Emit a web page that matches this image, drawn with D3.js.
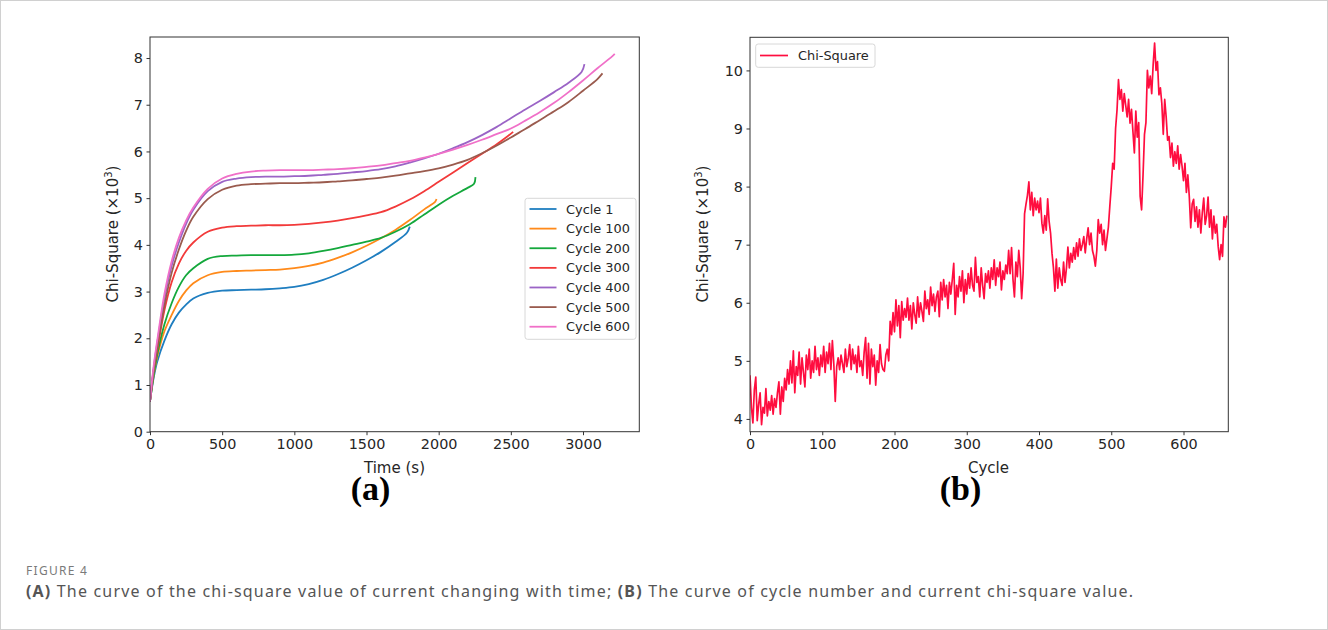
<!DOCTYPE html>
<html>
<head>
<meta charset="utf-8">
<script src="https://cdn.jsdelivr.net/npm/d3@7"></script>
<style>
  html, body { margin: 0; padding: 0; background: #fff; }
  svg { display: block; }
</style>
</head>
<body>
<svg id="fig" width="1328" height="630"></svg>
<script>
// ---- Panel (a): chi-square of current vs time, one curve per cycle ([time s, value ×10³])
const cycle1 = [[0,0.65],[25,1.15],[50,1.5],[100,1.95],[150,2.3],[200,2.55],[250,2.72],[300,2.85],[400,2.97],[500,3.02],[600,3.03],[700,3.04],[800,3.05],[900,3.07],[1000,3.1],[1100,3.16],[1200,3.25],[1300,3.37],[1400,3.51],[1500,3.67],[1600,3.85],[1700,4.06],[1780,4.26],[1800,4.39]];
const cycle100 = [[0,0.65],[25,1.2],[50,1.6],[100,2.15],[150,2.5],[200,2.8],[250,3.02],[300,3.18],[400,3.35],[500,3.42],[600,3.44],[700,3.45],[800,3.46],[900,3.47],[1000,3.5],[1100,3.55],[1200,3.62],[1300,3.72],[1400,3.84],[1500,3.98],[1600,4.14],[1700,4.32],[1800,4.53],[1900,4.76],[1975,4.92],[1985,4.98]];
const cycle200 = [[0,0.65],[25,1.2],[50,1.65],[100,2.3],[150,2.75],[200,3.1],[250,3.35],[300,3.5],[400,3.7],[500,3.76],[600,3.77],[700,3.78],[800,3.78],[900,3.78],[1000,3.79],[1100,3.82],[1200,3.87],[1300,3.93],[1400,4.0],[1500,4.07],[1600,4.15],[1700,4.28],[1800,4.44],[1900,4.65],[2000,4.86],[2100,5.05],[2200,5.22],[2245,5.31],[2255,5.45]];
const cycle300 = [[0,0.65],[25,1.3],[50,1.75],[100,2.6],[150,3.2],[200,3.6],[250,3.87],[300,4.05],[400,4.28],[500,4.37],[600,4.4],[700,4.41],[800,4.42],[900,4.42],[1000,4.43],[1100,4.45],[1200,4.48],[1300,4.52],[1400,4.57],[1500,4.63],[1600,4.7],[1700,4.82],[1800,4.97],[1900,5.15],[2000,5.35],[2100,5.55],[2200,5.75],[2300,5.95],[2400,6.15],[2480,6.33],[2516,6.42]];
const cycle400 = [[0,0.65],[25,1.35],[50,1.9],[100,2.85],[150,3.55],[200,4.05],[250,4.45],[300,4.75],[400,5.15],[500,5.35],[600,5.42],[700,5.45],[800,5.46],[900,5.46],[1000,5.47],[1100,5.48],[1200,5.5],[1300,5.52],[1400,5.55],[1500,5.58],[1600,5.62],[1700,5.68],[1800,5.76],[1900,5.85],[2000,5.95],[2100,6.07],[2200,6.2],[2300,6.35],[2400,6.52],[2500,6.71],[2600,6.9],[2700,7.08],[2800,7.27],[2900,7.47],[2990,7.7],[3010,7.87]];
const cycle500 = [[0,0.65],[25,1.3],[50,1.8],[100,2.7],[150,3.4],[200,3.9],[250,4.3],[300,4.6],[400,4.98],[500,5.18],[600,5.27],[700,5.3],[800,5.31],[900,5.32],[1000,5.32],[1100,5.33],[1200,5.34],[1300,5.36],[1400,5.38],[1500,5.41],[1600,5.44],[1700,5.48],[1800,5.53],[1900,5.58],[2000,5.64],[2100,5.72],[2200,5.82],[2300,5.96],[2400,6.12],[2500,6.3],[2600,6.48],[2700,6.67],[2800,6.86],[2900,7.06],[3000,7.3],[3100,7.55],[3135,7.67]];
const cycle600 = [[0,0.65],[25,1.4],[50,1.95],[100,2.95],[150,3.65],[200,4.15],[250,4.52],[300,4.8],[400,5.2],[500,5.42],[600,5.52],[700,5.57],[800,5.59],[900,5.6],[1000,5.6],[1100,5.6],[1200,5.61],[1300,5.62],[1400,5.64],[1500,5.67],[1600,5.7],[1700,5.75],[1800,5.8],[1900,5.87],[2000,5.95],[2100,6.04],[2200,6.14],[2300,6.25],[2400,6.37],[2500,6.49],[2600,6.66],[2700,6.84],[2800,7.04],[2900,7.27],[3000,7.52],[3100,7.78],[3200,8.03],[3220,8.09]];

const seriesNames = ["Cycle 1","Cycle 100","Cycle 200","Cycle 300","Cycle 400","Cycle 500","Cycle 600"];
const seriesColors = ["#1f7ec0","#ff8a1a","#14a83c","#f23a3a","#9b64c6","#9a5b4e","#f070c8"];
const timeTicks = [0,500,1000,1500,2000,2500,3000];
const chiTicksA = [0,1,2,3,4,5,6,7,8];

// ---- Panel (b): chi-square of current for every second cycle (cycles 0, 2, 4, ...)
const chiSquare = [
  4.75,4.2,3.93,4.5,4.72,3.97,4.25,4.45,3.9,4.2,
  4.1,4.52,4.05,4.3,4.15,4.4,4.08,4.35,4.2,4.45,
  4.64,4.08,4.55,4.3,4.7,4.5,4.85,4.6,5.0,4.62,
  5.17,4.45,4.9,4.75,5.15,4.6,5.05,4.8,4.55,5.1,
  4.85,5.2,4.7,5.0,4.8,5.25,4.85,5.05,4.75,5.1,
  4.9,5.25,4.8,5.15,4.95,5.3,4.85,5.35,4.95,4.3,
  4.9,5.05,4.85,5.1,4.95,4.8,5.2,4.9,5.05,5.28,
  4.85,5.2,4.95,5.1,4.8,5.25,4.9,5.0,4.75,5.15,
  5.4,4.7,5.3,4.6,5.2,4.9,5.1,4.58,5.0,4.8,
  5.28,4.95,4.85,4.82,5.1,5.2,5.0,5.68,5.45,5.83,
  5.5,6.05,5.6,5.95,5.4,6.02,5.7,5.9,5.75,6.08,
  5.7,5.95,5.55,6.0,5.8,5.65,6.1,5.75,6.0,5.85,
  5.68,6.2,5.9,6.05,5.8,6.27,5.95,6.15,5.85,6.1,
  6.2,5.76,6.35,6.05,6.4,6.1,6.3,5.9,6.35,6.15,
  6.4,6.68,5.8,6.3,6.1,6.45,6.2,6.55,6.0,6.4,
  6.15,6.5,6.25,6.6,6.3,6.2,6.78,6.35,6.45,6.1,
  6.6,6.3,6.07,6.5,6.35,6.55,6.25,6.6,6.4,6.74,
  6.3,6.6,6.45,6.7,6.22,6.55,6.4,6.65,6.5,6.9,
  6.5,6.95,6.4,6.1,6.7,6.45,6.9,6.6,6.07,6.5,
  7.53,7.7,7.85,8.08,7.6,7.9,7.5,7.8,7.6,7.75,
  7.55,7.8,7.37,7.2,7.5,7.25,7.79,7.4,7.2,6.85,
  6.6,6.2,6.75,6.25,6.6,6.4,6.3,6.7,6.35,6.6,
  6.96,6.6,6.85,6.7,6.95,6.75,7.03,6.8,7.1,6.9,
  7.0,7.14,6.86,7.1,7.29,7.0,7.2,6.9,6.8,6.63,
  6.9,7.43,7.2,7.35,7.0,7.25,6.9,7.1,7.3,7.66,
  8.0,8.4,8.3,9.0,9.32,9.84,9.5,9.67,9.3,9.6,
  9.4,9.2,9.5,9.09,9.33,8.95,8.58,9.3,8.85,9.1,
  7.83,7.6,8.2,8.9,9.1,10.0,9.7,9.9,9.6,10.1,
  10.47,10.0,10.15,9.58,9.7,9.43,8.9,9.5,9.2,8.8,
  8.86,8.5,8.75,8.35,8.6,8.4,8.7,8.3,8.55,8.35,
  8.1,8.4,7.9,8.2,7.83,7.29,7.7,7.78,7.4,7.65,
  7.3,7.6,7.2,7.55,7.8,7.35,7.5,7.82,7.3,7.6,
  7.1,7.49,7.2,7.35,6.97,6.74,7.0,6.8,7.48,7.3,
  7.5
];
const cycleStep = 2;
const cycleTicks = [0,100,200,300,400,500,600];
const chiTicksB = [4,5,6,7,8,9,10];

const svg = d3.select("#fig");
const FONT = "'DejaVu Sans', sans-serif";
const INK = "#262626";

// outer frame of the figure
svg.append("rect").attr("x", 0.5).attr("y", 0.5).attr("width", 1327).attr("height", 629)
  .attr("fill", "#fff").attr("stroke", "#d0d0d0");

function frame(g, x, y, xTicks, yTicks) {
  const [x0, x1] = x.range(), [y1, y0] = y.range();
  const xAxis = g.append("g").attr("transform", `translate(0,${y1})`)
    .call(d3.axisBottom(x).tickValues(xTicks).tickSize(3.5).tickPadding(3.5).tickFormat(d3.format("d")));
  const yAxis = g.append("g").attr("transform", `translate(${x0},0)`)
    .call(d3.axisLeft(y).tickValues(yTicks).tickSize(3.5).tickPadding(3.5).tickFormat(d3.format("d")));
  [xAxis, yAxis].forEach(a => {
    a.select(".domain").remove();
    a.selectAll("line").attr("stroke", "#333");
    a.selectAll("text").attr("fill", INK).style("font-family", FONT).style("font-size", "14.4px");
  });
  g.append("rect").attr("x", x0).attr("y", y0).attr("width", x1 - x0).attr("height", y1 - y0)
    .attr("fill", "none").attr("stroke", "#333").attr("stroke-width", 1);
}

function yLabel(g, cx, cy) {
  const t = g.append("text").attr("transform", `translate(${cx},${cy}) rotate(-90)`)
    .attr("text-anchor", "middle").attr("fill", INK)
    .style("font-family", FONT).style("font-size", "15px");
  t.append("tspan").text("Chi-Square (×10");
  t.append("tspan").attr("dy", -6).style("font-size", "10px").text("3");
  t.append("tspan").attr("dy", 6).text(")");
}

function panelTag(cx, label) {
  svg.append("text").attr("x", cx).attr("y", 500).attr("text-anchor", "middle")
    .style("font-family", "'Liberation Serif', 'Times New Roman', serif").style("font-weight", "bold")
    .style("font-size", "34px").attr("fill", "#000").text(label);
}

// ---------------- Panel (a)
{
  const g = svg.append("g");
  const x = d3.scaleLinear().domain([0, 3390]).range([150, 639.3]);
  const y = d3.scaleLinear().domain([0, 8.45]).range([431.7, 37]);
  g.append("clipPath").attr("id", "clipA").append("rect")
    .attr("x", 150).attr("y", 37).attr("width", 489.3).attr("height", 394.7);

  const line = d3.line().x(d => x(d[0])).y(d => y(d[1])).curve(d3.curveCatmullRom.alpha(0.5));
  const all = [cycle1, cycle100, cycle200, cycle300, cycle400, cycle500, cycle600];
  g.append("g").attr("clip-path", "url(#clipA)").selectAll("path").data(all).join("path")
    .attr("d", line).attr("fill", "none")
    .attr("stroke", (d, i) => seriesColors[i]).attr("stroke-width", 1.8);

  frame(g, x, y, timeTicks, chiTicksA);
  g.append("text").attr("x", 394.5).attr("y", 473).attr("text-anchor", "middle")
    .attr("fill", INK).style("font-family", FONT).style("font-size", "15px").text("Time (s)");
  yLabel(g, 118, 234);

  // legend
  const lg = g.append("g");
  lg.append("rect").attr("x", 525).attr("y", 198.3).attr("width", 111).attr("height", 141)
    .attr("rx", 2.5).attr("fill", "#fff").attr("fill-opacity", 0.8).attr("stroke", "#d8d8d8");
  seriesNames.forEach((name, i) => {
    const yy = 209 + i * 19.62;
    lg.append("line").attr("x1", 529.5).attr("x2", 556.5).attr("y1", yy).attr("y2", yy)
      .attr("stroke", seriesColors[i]).attr("stroke-width", 1.8);
    lg.append("text").attr("x", 566).attr("y", yy + 4.6).attr("fill", INK)
      .style("font-family", FONT).style("font-size", "12.9px").text(name);
  });

  panelTag(370.5, "(a)");
}

// ---------------- Panel (b)
{
  const g = svg.append("g");
  const x = d3.scaleLinear().domain([0, 662]).range([750, 1228.3]);
  const y = d3.scaleLinear().domain([3.78, 10.57]).range([431.7, 37.3]);
  g.append("clipPath").attr("id", "clipB").append("rect")
    .attr("x", 750).attr("y", 37.3).attr("width", 478.3).attr("height", 394.4);

  const line = d3.line().x((d, i) => x(i * cycleStep)).y(d => y(d));
  g.append("path").attr("clip-path", "url(#clipB)").datum(chiSquare)
    .attr("d", line).attr("fill", "none").attr("stroke", "#ff0d3f")
    .attr("stroke-width", 1.7).attr("stroke-linejoin", "round");

  frame(g, x, y, cycleTicks, chiTicksB);
  g.append("text").attr("x", 988.5).attr("y", 473).attr("text-anchor", "middle")
    .attr("fill", INK).style("font-family", FONT).style("font-size", "15px").text("Cycle");
  yLabel(g, 708, 234);

  const lg = g.append("g");
  lg.append("rect").attr("x", 755.7).attr("y", 44).attr("width", 119.3).attr("height", 23.3)
    .attr("rx", 2.5).attr("fill", "#fff").attr("fill-opacity", 0.8).attr("stroke", "#d8d8d8");
  lg.append("line").attr("x1", 760).attr("x2", 788).attr("y1", 55.5).attr("y2", 55.5)
    .attr("stroke", "#ff0d3f").attr("stroke-width", 1.7);
  lg.append("text").attr("x", 798).attr("y", 60.1).attr("fill", INK)
    .style("font-family", FONT).style("font-size", "12.9px").text("Chi-Square");

  panelTag(960.5, "(b)");
}

// ---------------- Caption
// spread a caption line so it spans the given width
function spread(textSel, width) {
  const node = textSel.node();
  const n = node.textContent.length;
  const w = node.getComputedTextLength();
  textSel.style("letter-spacing", ((width - w) / Math.max(1, n - 1)) + "px");
}
const fig = svg.append("text").attr("x", 26).attr("y", 575).attr("fill", "#7a7a7a")
  .style("font-family", "'Noto Sans', 'Open Sans', sans-serif").style("font-size", "12px")
  .text("FIGURE 4");
spread(fig, 61);
const cap = svg.append("text").attr("x", 26).attr("y", 597).attr("fill", "#555")
  .style("font-family", "'Noto Sans', 'Open Sans', sans-serif").style("font-size", "16px");
cap.append("tspan").style("font-weight", "bold").text("(A)");
cap.append("tspan").text(" The curve of the chi-square value of current changing with time; ");
cap.append("tspan").style("font-weight", "bold").text("(B)");
cap.append("tspan").text(" The curve of cycle number and current chi-square value.");
spread(cap, 1107);
</script>
</body>
</html>
